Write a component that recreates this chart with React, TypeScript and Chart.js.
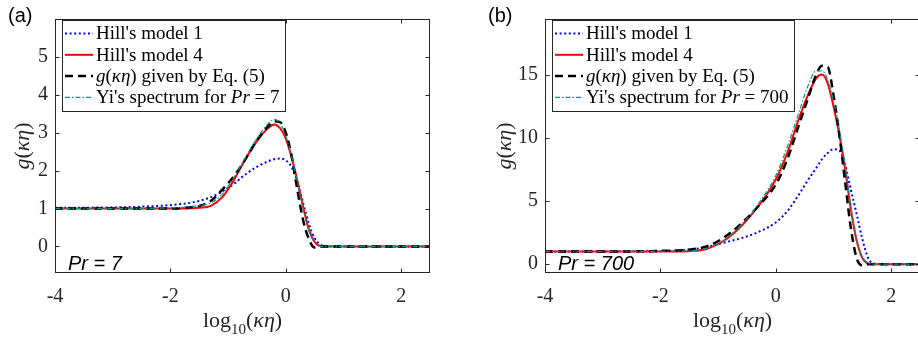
import React, { useEffect, useRef } from "react";
import { Chart, registerables } from "chart.js";

Chart.register(...registerables);

// ---------- data ----------
const SERIES_NAMES = ["Hill's model 1", "Hill's model 4", "g(κη) given by Eq. (5)", "Yi's spectrum"];
const X_TICKS = [-4, -2, 0, 2];
const Y_TICKS_A = [0, 1, 2, 3, 4, 5];
const Y_TICKS_B = [0, 5, 10, 15];

// panel (a), Pr = 7
const X_A = [-4, -3, -2.5, -2, -1.75, -1.5, -1.3, -1.1, -0.9, -0.7, -0.5, -0.3, -0.2, -0.1, 0, 0.1, 0.2, 0.3, 0.4, 0.5, 0.6, 0.7, 1, 2, 2.5];
const HILL1_A = [1.02, 1.03, 1.05, 1.09, 1.13, 1.2, 1.3, 1.45, 1.65, 1.9, 2.1, 2.25, 2.3, 2.32, 2.27, 2.1, 1.7, 1.15, 0.6, 0.22, 0.05, 0.01, 0, 0, 0];
const HILL4_A = [1, 1, 1, 1, 1, 1.02, 1.07, 1.3, 1.75, 2.3, 2.78, 3.13, 3.22, 3.12, 2.85, 2.35, 1.75, 1.05, 0.45, 0.12, 0.01, 0, 0, 0, 0];
const EQ5_A = [1, 1, 1, 1, 1.02, 1.07, 1.2, 1.5, 1.85, 2.3, 2.8, 3.18, 3.3, 3.28, 3.0, 2.4, 1.5, 0.7, 0.2, -0.03, 0, 0, 0, 0, 0];
const YI_A = [1, 1, 1, 1.02, 1.04, 1.08, 1.15, 1.38, 1.82, 2.35, 2.85, 3.25, 3.35, 3.25, 2.92, 2.38, 1.72, 1.0, 0.42, 0.1, 0.01, 0, 0, 0, 0];

// panel (b), Pr = 700
const X_B = [-4, -3, -2, -1.5, -1.2, -0.9, -0.6, -0.3, 0, 0.2, 0.4, 0.55, 0.7, 0.8, 0.9, 1.0, 1.1, 1.2, 1.3, 1.4, 1.5, 1.6, 1.7, 2, 2.5];
const HILL1_B = [1.0, 1.01, 1.03, 1.15, 1.35, 1.7, 2.05, 2.55, 3.3, 4.2, 5.5, 6.6, 7.6, 8.3, 8.8, 9.1, 9.0, 7.9, 5.9, 4.0, 2.0, 0.5, 0.05, 0, 0];
const HILL4_B = [1, 1, 1, 1.03, 1.2, 1.85, 3.0, 4.6, 6.7, 8.8, 11.5, 13.3, 14.7, 15.0, 14.3, 12.5, 10.3, 7.6, 4.4, 1.9, 0.5, 0.05, 0, 0, 0];
const EQ5_B = [1, 1, 1.05, 1.15, 1.4, 2.1, 3.2, 4.6, 6.3, 8.3, 11.0, 13.0, 15.0, 15.7, 15.6, 13.4, 10.3, 6.6, 2.9, 0.5, -0.1, 0, 0, 0, 0];
const YI_B = [1, 1, 1.02, 1.06, 1.25, 1.9, 3.1, 4.8, 7.0, 9.3, 12.0, 14.0, 15.3, 15.3, 14.6, 12.9, 10.7, 7.9, 4.6, 2.0, 0.6, 0.1, 0, 0, 0];

// ---------- styles ----------
const SERIF = "'Liberation Serif', 'Times New Roman', serif";
const SANS = "'Liberation Sans', Arial, sans-serif";
const AXIS_COLOR = "#262626";
const STYLES = [
  { color: "#0000ff", width: 2, dash: [2, 2.6], order: 3 },
  { color: "#ff0000", width: 2, dash: [] as number[], order: 2 },
  { color: "#000000", width: 2.5, dash: [8, 5], order: 1 },
  { color: "#009696", width: 1.2, dash: [5, 2, 1.5, 2], order: 0 },
];

Chart.defaults.font.family = SERIF;
Chart.defaults.font.size = 20;
Chart.defaults.color = AXIS_COLOR;

type Seg = { t: string; i?: boolean; sub?: boolean };

function legendLabels(pr: string): Seg[][] {
  return [
    [{ t: SERIES_NAMES[0] }],
    [{ t: SERIES_NAMES[1] }],
    [{ t: "g", i: true }, { t: "(" }, { t: "κη", i: true }, { t: ") given by Eq. (5)" }],
    [{ t: SERIES_NAMES[3] + " for " }, { t: "Pr", i: true }, { t: " = " + pr }],
  ];
}

function segFont(s: Seg, size: number) {
  const sz = s.sub ? Math.round(size * 0.7) : size;
  return `${s.i ? "italic " : ""}${sz}px ${SERIF}`;
}
function measureSegs(ctx: CanvasRenderingContext2D, segs: Seg[], size: number) {
  let w = 0;
  for (const s of segs) {
    ctx.font = segFont(s, size);
    w += ctx.measureText(s.t).width;
  }
  return w;
}
function drawSegs(ctx: CanvasRenderingContext2D, segs: Seg[], x: number, y: number, size: number) {
  let cx = x;
  for (const s of segs) {
    ctx.font = segFont(s, size);
    ctx.fillText(s.t, cx, y + (s.sub ? size * 0.32 : 0));
    cx += ctx.measureText(s.t).width;
  }
  return cx - x;
}

type Panel = {
  xs: number[];
  series: number[][];
  yMin: number;
  yMax: number;
  yTicks: number[];
  tag: string;
  tagX: number;
  pr: string;
  padLeft: number;
  padRight: number;
  yTitleDx: number;
};

const PANEL_A: Panel = {
  xs: X_A,
  series: [HILL1_A, HILL4_A, EQ5_A, YI_A],
  yMin: -0.7,
  yMax: 6,
  yTicks: Y_TICKS_A,
  tag: "(a)",
  tagX: 8,
  pr: "7",
  padLeft: 0,
  padRight: 29,
  yTitleDx: 32,
};
const PANEL_B: Panel = {
  xs: X_B,
  series: [HILL1_B, HILL4_B, EQ5_B, YI_B],
  yMin: -0.7,
  yMax: 19.4,
  yTicks: Y_TICKS_B,
  tag: "(b)",
  tagX: 18,
  pr: "700",
  padLeft: 20,
  padRight: 9,
  yTitleDx: 40,
};

function makeDecor(p: Panel) {
  return {
    id: "decor",
    afterDatasetsDraw(chart: any) {
      const ctx: CanvasRenderingContext2D = chart.ctx;
      const a = chart.chartArea;
      const xs = chart.scales.x;
      const ys = chart.scales.y;
      ctx.save();
      // box
      ctx.strokeStyle = AXIS_COLOR;
      ctx.lineWidth = 1;
      ctx.setLineDash([]);
      const L = Math.round(a.left) + 0.5;
      const R = Math.round(a.right) - 0.5;
      const T = Math.round(a.top) + 0.5;
      const B = Math.round(a.bottom) - 0.5;
      ctx.strokeRect(L, T, R - L, B - T);
      // inward ticks
      const tl = 4;
      ctx.beginPath();
      for (const v of X_TICKS) {
        const px = Math.round(xs.getPixelForValue(v)) + 0.5;
        ctx.moveTo(px, B);
        ctx.lineTo(px, B - tl);
        ctx.moveTo(px, T);
        ctx.lineTo(px, T + tl);
      }
      for (const v of p.yTicks) {
        const py = Math.round(ys.getPixelForValue(v)) + 0.5;
        ctx.moveTo(L, py);
        ctx.lineTo(L + tl, py);
        ctx.moveTo(R, py);
        ctx.lineTo(R - tl, py);
      }
      ctx.stroke();

      // legend
      const labels = legendLabels(p.pr);
      const fs = 19;
      let maxW = 0;
      for (const l of labels) maxW = Math.max(maxW, measureSegs(ctx, l, fs));
      const lx = a.left + 7;
      const ly = 20;
      const lw = 34 + maxW + 5;
      const lh = 91;
      ctx.fillStyle = "#ffffff";
      ctx.fillRect(lx, ly, lw, lh);
      ctx.strokeStyle = AXIS_COLOR;
      ctx.lineWidth = 1;
      ctx.strokeRect(Math.round(lx) + 0.5, ly + 0.5, Math.round(lw), lh);
      ctx.textBaseline = "middle";
      ctx.textAlign = "left";
      labels.forEach((segs, i) => {
        const cy = ly + 13.5 + i * 21.3;
        const st = STYLES[i];
        ctx.strokeStyle = st.color;
        ctx.lineWidth = st.width;
        ctx.setLineDash(st.dash);
        ctx.beginPath();
        ctx.moveTo(lx + 3, cy);
        ctx.lineTo(lx + 31, cy);
        ctx.stroke();
        ctx.setLineDash([]);
        ctx.fillStyle = "#000000";
        drawSegs(ctx, segs, lx + 34, cy + 1, fs);
      });

      // Pr annotation
      ctx.fillStyle = "#000000";
      ctx.textBaseline = "alphabetic";
      ctx.font = `italic 20px ${SANS}`;
      ctx.fillText("Pr = " + p.pr, a.left + 13, 270);

      // panel tag
      ctx.font = `20px ${SANS}`;
      ctx.fillText(p.tag, p.tagX, 22);

      // x title
      ctx.fillStyle = AXIS_COLOR;
      const xt: Seg[] = [{ t: "log" }, { t: "10", sub: true }, { t: "(" }, { t: "κη", i: true }, { t: ")" }];
      const ts = 22;
      const xw = measureSegs(ctx, xt, ts);
      drawSegs(ctx, xt, (a.left + a.right) / 2 - xw / 2, 327, ts);

      // y title
      const yt: Seg[] = [{ t: "g", i: true }, { t: "(" }, { t: "κη", i: true }, { t: ")" }];
      const yw = measureSegs(ctx, yt, ts);
      ctx.save();
      ctx.translate(a.left - p.yTitleDx, (a.top + a.bottom) / 2);
      ctx.rotate(-Math.PI / 2);
      ctx.textBaseline = "middle";
      drawSegs(ctx, yt, -yw / 2, 0, ts);
      ctx.restore();

      ctx.restore();
    },
  };
}

function makeConfig(p: Panel): any {
  return {
    type: "line",
    data: {
      datasets: p.series.map((ys, i) => ({
        label: SERIES_NAMES[i],
        data: p.xs.map((x, j) => ({ x, y: ys[j] })),
        borderColor: STYLES[i].color,
        borderWidth: STYLES[i].width,
        borderDash: STYLES[i].dash,
        borderCapStyle: "butt",
        pointRadius: 0,
        fill: false,
        cubicInterpolationMode: "monotone",
        order: STYLES[i].order,
      })),
    },
    options: {
      animation: false,
      responsive: false,
      events: [],
      layout: { padding: { top: 12, right: p.padRight, left: p.padLeft, bottom: 0 } },
      plugins: { legend: { display: false }, tooltip: { enabled: false } },
      scales: {
        x: {
          type: "linear",
          min: -4,
          max: 2.5,
          afterBuildTicks: (s: any) => {
            s.ticks = X_TICKS.map((v) => ({ value: v }));
          },
          afterFit: (s: any) => {
            s.height = 70;
          },
          grid: { display: false, drawTicks: false },
          border: { display: false },
          ticks: {
            font: { family: "Liberation Serif", size: 20 },
            color: AXIS_COLOR,
            padding: 12,
            maxRotation: 0,
            autoSkip: false,
            callback: (v: any) => String(v),
          },
        },
        y: {
          type: "linear",
          min: p.yMin,
          max: p.yMax,
          afterBuildTicks: (s: any) => {
            s.ticks = p.yTicks.map((v) => ({ value: v }));
          },
          afterFit: (s: any) => {
            s.width = 55;
          },
          grid: { display: false, drawTicks: false },
          border: { display: false },
          ticks: {
            font: { family: "Liberation Serif", size: 20 },
            color: AXIS_COLOR,
            padding: 7,
            autoSkip: false,
            callback: (v: any) => String(v),
          },
        },
      },
    },
    plugins: [makeDecor(p)],
  };
}

function PanelChart({ panel, left }: { panel: Panel; left: number }) {
  const ref = useRef<HTMLCanvasElement | null>(null);
  useEffect(() => {
    if (!ref.current) return;
    const chart = new Chart(ref.current, makeConfig(panel));
    return () => chart.destroy();
  }, [panel]);
  return (
    <div style={{ position: "absolute", left, top: 0, width: 459, height: 343 }}>
      <canvas ref={ref} width={459} height={343} style={{ width: 459, height: 343, display: "block" }} />
    </div>
  );
}

export default function App() {
  return (
    <div
      style={{
        position: "fixed",
        left: 0,
        top: 0,
        width: 918,
        height: 343,
        overflow: "hidden",
        background: "#ffffff",
      }}
    >
      <PanelChart panel={PANEL_A} left={0} />
      <PanelChart panel={PANEL_B} left={470} />
    </div>
  );
}
